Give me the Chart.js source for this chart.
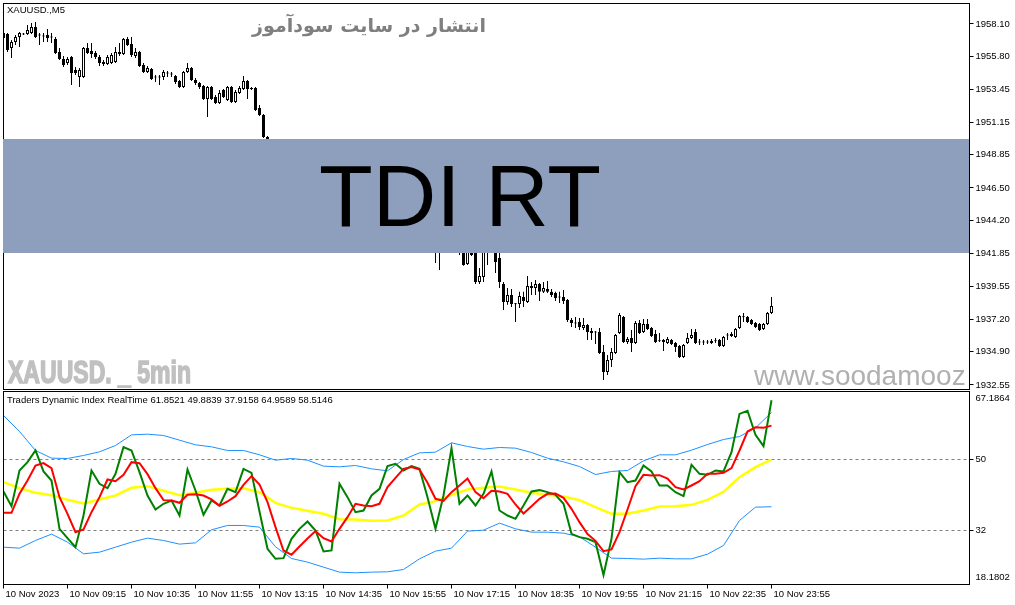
<!DOCTYPE html>
<html><head><meta charset="utf-8">
<script src="https://cdn.jsdelivr.net/npm/chart.js@4.4.1/dist/chart.umd.min.js"></script>
<style>
html,body{margin:0;padding:0;background:#fff;width:1015px;height:605px;overflow:hidden;position:relative;}
canvas{position:absolute;left:0;}
#main{top:0;}
#ind{top:391px;}
.t{position:absolute;white-space:nowrap;font-family:'Liberation Sans',Arial,sans-serif;color:#000;}
</style></head><body>
<canvas id="main" width="1015" height="390"></canvas>
<canvas id="ind" width="1015" height="214"></canvas>
<div class="t" style="left:7px;top:4px;font-size:9.5px;line-height:11px;">XAUUSD.,M5</div>
<div class="t" dir="rtl" style="left:246px;top:12px;width:246px;text-align:center;font-family:'DejaVu Sans',sans-serif;font-weight:bold;font-size:19px;line-height:26px;color:#7f7f7f;">انتشار در سایت سودآموز</div>
<div style="position:absolute;left:3px;top:139px;width:966px;height:114px;background:#8d9fbc;overflow:hidden;">
  <div class="t" style="left:0;top:0;width:914px;text-align:center;font-size:88px;line-height:114px;">TDI RT</div>
</div>
<div class="t" style="left:8px;top:356px;font-size:32px;line-height:32px;font-weight:bold;color:#c0c0c0;-webkit-text-stroke:1.6px #c0c0c0;transform:scaleX(0.72);transform-origin:0 0;">XAUUSD. _ 5min</div>
<div style="position:absolute;left:3px;top:355px;width:965px;height:34px;overflow:hidden;">
  <div class="t" style="left:751px;top:7px;font-size:28px;line-height:28px;color:#b0b0b0;">www.soodamooz.com</div>
</div>
<div class="t" id="tdiLabel" style="left:7px;top:394px;font-size:9.5px;line-height:11px;"></div>
<script>
// ---------- price data (M5 candles, 10 Nov 2023 07:55 .. 23:55) ----------
const open = [
1957.11,1957.39,1956.40,1956.83,1957.18,1957.36,1957.39,1957.46,1957.89,1957.32,
1957.25,1957.32,1957.18,1957.04,1956.12,1955.62,1955.34,1955.77,1954.85,1954.35,
1954.35,1956.40,1956.19,1956.05,1955.77,1955.41,1955.27,1955.34,1955.41,1956.12,
1955.98,1957.04,1956.69,1955.84,1956.12,1955.20,1954.70,1954.92,1954.35,1954.32,
1954.35,1954.63,1954.56,1954.42,1954.07,1953.64,1954.70,1954.99,1954.14,1953.93,
1953.71,1952.79,1953.64,1952.93,1952.51,1953.43,1952.72,1953.64,1952.58,1953.22,
1953.50,1954.07,1953.57,1953.57,1952.16,1951.66,1950.10,1949.75,1949.35,1949.05,
1949.30,1948.70,1948.25,1948.50,1948.30,1947.85,1948.10,1948.35,1948.00,1947.55,
1947.20,1947.50,1947.25,1946.80,1947.00,1946.85,1946.30,1945.95,1946.25,1946.05,
1945.60,1945.80,1945.40,1944.95,1945.20,1944.80,1944.35,1944.60,1944.20,1943.80,
1944.05,1943.65,1943.25,1943.45,1943.00,1942.65,1942.85,1942.50,1942.39,1942.11,
1942.25,1942.55,1942.40,1942.65,1942.80,1942.45,1941.12,1941.90,1942.11,1939.84,
1940.20,1942.39,1942.11,1942.25,1941.54,1939.70,1938.43,1938.92,1938.29,1938.29,
1938.78,1938.43,1939.56,1939.42,1939.70,1939.14,1939.35,1939.14,1939.06,1938.78,
1938.78,1938.57,1937.15,1936.94,1937.01,1936.59,1936.80,1936.23,1936.30,1936.30,
1934.89,1933.47,1934.32,1934.82,1936.23,1937.37,1935.59,1935.88,1935.52,1936.94,
1936.30,1936.87,1936.59,1936.16,1935.67,1935.59,1935.52,1935.74,1935.52,1935.31,
1934.53,1935.52,1935.88,1936.30,1935.59,1935.56,1935.59,1935.52,1935.67,1935.74,
1935.31,1936.09,1936.16,1935.95,1936.59,1937.37,1937.37,1937.15,1936.94,1936.87,
1936.52,1936.87,1937.65];
const high = [
1957.61,1957.46,1956.97,1957.32,1957.54,1957.46,1958.03,1958.17,1958.24,1957.46,
1957.46,1957.75,1957.46,1957.18,1956.40,1955.84,1955.77,1955.84,1955.06,1954.99,
1956.47,1956.76,1956.76,1956.19,1955.91,1955.55,1955.91,1956.05,1956.47,1956.76,
1957.11,1957.18,1957.18,1956.40,1956.19,1955.34,1955.13,1954.99,1954.49,1954.49,
1954.85,1954.78,1954.70,1954.49,1954.14,1954.78,1955.34,1955.06,1954.28,1954.00,
1953.78,1953.71,1953.71,1953.08,1953.43,1953.50,1953.71,1953.71,1953.43,1953.71,
1954.42,1954.14,1953.64,1953.64,1952.37,1951.73,1950.17,1949.90,1949.50,1949.40,
1949.45,1948.85,1948.60,1948.70,1948.40,1948.20,1948.45,1948.50,1948.10,1947.70,
1947.60,1947.65,1947.35,1947.10,1947.20,1946.95,1946.45,1946.35,1946.40,1946.15,
1945.90,1945.95,1945.50,1945.30,1945.35,1944.90,1944.70,1944.75,1944.30,1944.15,
1944.20,1943.80,1943.55,1943.60,1943.15,1942.95,1943.00,1942.70,1942.53,1942.60,
1942.70,1942.85,1942.75,1942.95,1943.05,1942.60,1942.39,1942.18,1942.25,1940.83,
1942.39,1942.55,1942.45,1942.39,1942.11,1939.84,1939.42,1939.35,1938.36,1939.14,
1939.14,1940.27,1939.84,1939.98,1939.77,1939.84,1939.91,1939.35,1939.14,1939.14,
1939.28,1938.64,1937.29,1937.37,1937.29,1937.29,1936.87,1936.59,1936.37,1936.59,
1935.38,1934.68,1935.17,1936.16,1937.65,1937.44,1935.95,1936.45,1937.08,1937.15,
1937.22,1937.22,1936.66,1936.45,1936.23,1935.81,1935.95,1935.81,1935.59,1935.38,
1935.45,1936.23,1936.52,1936.52,1935.81,1935.74,1935.74,1935.81,1935.88,1935.81,
1936.02,1936.23,1936.30,1936.59,1937.51,1937.65,1937.44,1937.22,1937.01,1936.94,
1936.94,1937.72,1938.78];
const low = [
1956.97,1956.12,1955.69,1956.62,1956.47,1957.32,1957.32,1957.39,1957.11,1956.62,
1956.83,1956.83,1956.76,1955.98,1955.55,1955.06,1955.20,1953.78,1954.49,1953.64,
1954.28,1955.98,1955.69,1955.62,1955.13,1955.13,1955.20,1955.27,1955.34,1955.84,
1955.91,1956.54,1955.77,1955.69,1955.06,1954.63,1954.63,1954.14,1954.00,1953.78,
1954.14,1954.35,1954.35,1953.85,1953.57,1953.57,1954.63,1954.07,1953.78,1953.50,
1952.72,1951.52,1952.72,1952.44,1952.44,1952.86,1952.65,1952.51,1952.51,1953.15,
1953.43,1952.79,1953.43,1951.94,1951.59,1950.03,1949.54,1949.20,1948.90,1948.95,
1948.60,1948.10,1948.15,1948.20,1947.70,1947.75,1948.00,1947.90,1947.40,1947.10,
1947.10,1947.15,1946.70,1946.65,1946.75,1946.20,1945.80,1945.85,1945.95,1945.50,
1945.45,1945.30,1944.85,1944.80,1944.70,1944.25,1944.20,1944.10,1943.70,1943.65,
1943.55,1943.15,1943.05,1942.90,1942.55,1942.45,1942.40,1942.20,1941.19,1940.69,
1942.05,1942.30,1942.20,1942.45,1941.75,1940.98,1941.05,1941.68,1939.70,1939.70,
1939.84,1941.05,1942.06,1940.48,1939.42,1937.86,1938.22,1938.07,1937.01,1938.00,
1938.07,1938.36,1938.92,1938.92,1938.50,1939.06,1939.06,1938.78,1938.50,1938.36,
1938.29,1937.01,1936.66,1936.59,1936.45,1936.45,1935.74,1935.74,1935.45,1934.75,
1932.91,1933.26,1933.83,1934.75,1936.16,1935.52,1935.45,1934.89,1935.45,1936.16,
1936.23,1936.45,1935.95,1935.52,1935.59,1934.96,1935.45,1935.38,1934.89,1934.46,
1934.46,1935.45,1935.81,1935.45,1935.38,1935.38,1935.45,1935.45,1935.52,1935.24,
1935.24,1935.74,1935.95,1935.88,1936.52,1937.01,1936.94,1936.80,1936.59,1936.37,
1936.45,1936.80,1937.58];
const close = [
1957.46,1956.26,1956.83,1957.18,1957.46,1957.39,1957.68,1957.89,1957.18,1957.29,
1957.22,1957.11,1957.15,1956.05,1955.62,1955.20,1955.62,1954.63,1954.63,1954.85,
1956.40,1956.05,1955.98,1955.77,1955.34,1955.27,1955.77,1955.91,1956.12,1955.98,
1957.04,1956.62,1955.91,1956.12,1955.13,1954.70,1954.99,1954.21,1954.32,1954.35,
1954.70,1954.60,1954.53,1954.00,1953.64,1954.70,1954.99,1954.14,1953.93,1953.64,
1952.79,1953.64,1952.79,1952.51,1953.22,1952.93,1953.64,1952.58,1953.29,1953.57,
1954.07,1953.50,1953.50,1952.01,1951.66,1950.10,1949.75,1949.35,1949.05,1949.30,
1948.70,1948.25,1948.50,1948.30,1947.85,1948.10,1948.35,1948.00,1947.55,1947.20,
1947.50,1947.25,1946.80,1947.00,1946.85,1946.30,1945.95,1946.25,1946.05,1945.60,
1945.80,1945.40,1944.95,1945.20,1944.80,1944.35,1944.60,1944.20,1943.80,1944.05,
1943.65,1943.25,1943.45,1943.00,1942.65,1942.85,1942.50,1942.35,1942.11,1942.25,
1942.55,1942.40,1942.65,1942.80,1942.45,1941.05,1942.25,1941.75,1939.84,1940.27,
1942.25,1942.11,1942.25,1941.26,1939.84,1938.43,1938.92,1938.29,1938.26,1938.85,
1938.50,1939.56,1939.42,1939.70,1939.14,1939.42,1939.14,1938.92,1938.71,1938.75,
1938.50,1937.15,1936.94,1936.91,1936.66,1936.80,1936.30,1936.37,1936.27,1934.82,
1933.47,1934.32,1934.89,1936.09,1937.51,1935.59,1935.81,1935.52,1936.94,1936.23,
1936.87,1936.52,1936.02,1935.59,1935.64,1935.74,1935.81,1935.45,1935.24,1934.53,
1935.38,1935.88,1936.09,1935.52,1935.56,1935.59,1935.56,1935.67,1935.64,1935.31,
1935.95,1936.06,1936.02,1936.52,1937.44,1937.34,1937.01,1936.87,1936.66,1936.45,
1936.87,1937.65,1938.14];
const priceTicks = [1958.10,1955.80,1953.45,1951.15,1948.85,1946.50,1944.20,1941.85,1939.55,1937.20,1934.90,1932.55];

// ---------- Traders Dynamic Index (sampled every 2 bars / every 4 bars) ----------
const lineStep = 2;
const bandStep = 4;
const rsiPrice = [
41.80,38.07,47.13,49.25,52.21,46.88,44.59,32.32,29.95,27.66,
35.70,47.13,43.74,42.64,46.28,53.05,52.21,46.71,40.78,37.23,
38.67,39.51,35.70,47.38,42.05,35.87,39.51,38.24,42.47,41.63,
47.55,46.54,36.72,27.24,24.70,24.87,29.78,32.32,34.18,31.90,
26.56,26.82,43.74,40.36,36.55,36.97,40.78,42.47,48.23,48.82,
47.13,48.23,47.55,40.36,32.32,40.78,52.80,38.67,40.78,38.24,
41.21,46.88,36.97,35.70,34.86,38.24,41.80,42.14,41.63,40.95,
38.67,31.05,30.20,29.78,28.93,20.60,29.78,46.71,44.17,44.59,
48.40,46.88,43.32,43.32,41.63,40.61,48.57,46.28,46.03,47.13,
46.88,51.80,61.50,62.30,56.20,53.30,64.9589];
const signal = [
36.38,36.38,41.21,44.59,48.40,48.99,47.72,40.36,36.13,31.47,
32.15,36.55,40.36,44.84,44.42,46.03,49.25,48.99,46.20,42.64,
39.60,39.51,38.92,40.95,41.12,40.78,39.77,38.16,39.26,40.61,
43.49,45.69,43.57,39.09,32.74,26.82,25.72,27.83,29.86,31.73,
29.95,29.10,32.32,35.28,38.67,38.24,38.07,38.67,42.90,45.27,
47.55,47.98,47.38,44.00,39.94,39.43,41.63,43.32,45.10,41.63,
40.10,41.97,41.80,41.21,38.50,36.21,38.07,39.94,41.21,41.29,
40.19,37.40,34.01,30.97,29.27,26.65,27.07,31.47,37.23,43.15,
46.03,45.86,45.94,45.10,42.90,42.31,43.32,44.42,46.28,46.28,
46.54,47.72,52.21,57.03,58.13,57.96,58.5146];
const baseLine = [
44.17,42.64,41.46,40.87,39.68,38.75,39.77,40.78,42.73,43.15,
41.97,40.87,41.46,42.22,42.47,42.64,41.63,38.92,37.65,36.89,
36.13,34.77,34.69,34.35,34.43,35.70,38.50,39.34,40.95,42.31,
42.73,43.07,42.31,41.46,40.95,40.53,39.60,37.82,36.13,36.13,
36.97,37.99,38.07,38.41,39.68,41.71,45.44,47.98,49.8839];
const upperBand = [
61.09,57.03,52.21,50.26,50.18,50.94,51.87,53.48,56.18,56.35,
56.02,54.83,53.65,53.14,52.21,52.21,51.11,49.75,50.18,49.75,
48.23,48.06,48.40,47.55,47.05,49.92,51.61,51.78,54.15,53.22,
52.55,52.97,52.80,51.70,50.26,49.33,48.14,46.11,46.88,47.13,
49.58,51.11,51.11,52.29,53.73,55.00,55.76,57.96,61.8521];
const lowerBand = [
27.66,27.41,29.36,30.97,28.93,25.97,26.39,27.66,28.93,29.95,
29.36,28.43,28.76,32.07,33.17,33.17,32.74,27.75,24.79,23.86,
22.59,21.32,21.15,21.32,21.40,21.99,24.70,26.65,27.41,31.73,
31.98,33.76,32.32,31.47,31.47,31.22,30.29,27.66,24.87,24.79,
24.62,24.87,24.70,24.70,25.88,28.09,34.43,37.82,37.9158];
const levels = [50, 32];
const indMin = 18.1802, indMax = 67.1864;

// ---------- time axis ----------
const timeTickBars = [0,16,32,48,64,80,96,112,128,144,160,176,192];
const timeLabels = ['10 Nov 2023','10 Nov 09:15','10 Nov 10:35','10 Nov 11:55','10 Nov 13:15','10 Nov 14:35','10 Nov 15:55','10 Nov 17:15','10 Nov 18:35','10 Nov 19:55','10 Nov 21:15','10 Nov 22:35','10 Nov 23:55'];

// ---------- build ----------
const last = a => a[a.length - 1];
document.getElementById('tdiLabel').textContent =
  'Traders Dynamic Index RealTime ' + [last(upperBand), last(baseLine), last(lowerBand), last(rsiPrice), last(signal)].map(v => v.toFixed(4)).join(' ');

const FONT = {family: "'Liberation Sans', Arial, sans-serif", size: 9.5};
Chart.defaults.color = '#000';
const X_MIN = 0, X_MAX = 241.5;

const framePlugin = {
  id: 'frame',
  afterDraw(chart) {
    const {ctx, chartArea: a} = chart;
    ctx.save();
    ctx.strokeStyle = '#000'; ctx.lineWidth = 1;
    ctx.strokeRect(a.left, a.top, a.right - a.left, a.bottom - a.top);
    ctx.restore();
  }
};

const bodyData = open.map((o, i) => ({x: i, y: [o, close[i]]}));
const wickData = high.map((h, i) => ({x: i, y: [low[i], h]}));

new Chart(document.getElementById('main'), {
  type: 'bar',
  data: {datasets: [
    {data: bodyData, order: 0, grouped: false, categoryPercentage: 1, barPercentage: 0.75, maxBarThickness: 3,
     inflateAmount: 0, borderSkipped: false, minBarLength: 1, borderWidth: 1, borderColor: '#000',
     backgroundColor: open.map((o, i) => close[i] >= o ? '#ffffff' : '#000000')},
    {data: wickData, order: 1, grouped: false, categoryPercentage: 1, barPercentage: 0.25, maxBarThickness: 1,
     inflateAmount: 0, borderWidth: 0, backgroundColor: '#000'}
  ]},
  options: {
    responsive: false, animation: false, events: [],
    layout: {padding: {left: 3.5, top: 3.5, right: 0, bottom: 0.5}},
    plugins: {legend: {display: false}, tooltip: {enabled: false}},
    scales: {
      x: {type: 'linear', display: false, offset: false, min: X_MIN, max: X_MAX, grid: {offset: false}},
      y: {position: 'right', min: 1932.23, max: 1959.55, stacked: false,
          afterBuildTicks: s => { s.ticks = priceTicks.map(v => ({value: v})); },
          afterFit: s => { s.width = 45.5; s.paddingTop = 0; s.paddingBottom = 0; },
          ticks: {autoSkip: false, padding: 2, font: FONT, color: '#000',
                  callback: (v, i) => priceTicks[i].toFixed(2)},
          grid: {drawOnChartArea: false, tickLength: 4, color: '#000'},
          border: {display: true, color: '#000'}}
    }
  },
  plugins: [framePlugin]
});

const levelPlugin = {
  id: 'levels',
  beforeDatasetsDraw(chart) {
    const {ctx, chartArea: a, scales: {y}} = chart;
    ctx.save();
    ctx.strokeStyle = '#808080'; ctx.lineWidth = 1; ctx.setLineDash([3, 3]);
    levels.forEach(l => {
      const py = Math.round(y.getPixelForValue(l)) + 0.5;
      ctx.beginPath(); ctx.moveTo(a.left, py); ctx.lineTo(a.right, py); ctx.stroke();
    });
    ctx.restore();
  },
  afterDraw(chart) {
    const {ctx, chartArea: a} = chart;
    ctx.save();
    ctx.fillStyle = '#000';
    ctx.font = FONT.size + 'px ' + FONT.family;
    ctx.textBaseline = 'middle'; ctx.textAlign = 'left';
    ctx.fillText(indMax.toFixed(4), a.right + 6, a.top + 7);
    ctx.fillText(indMin.toFixed(4), a.right + 6, a.bottom - 7.5);
    ctx.restore();
  }
};

const pts = (arr, step) => arr.map((v, k) => ({x: k * step, y: v}));
const lineDs = (arr, step, color, width) => ({
  type: 'line', data: pts(arr, step), borderColor: color, borderWidth: width,
  pointRadius: 0, tension: 0, fill: false
});

new Chart(document.getElementById('ind'), {
  type: 'line',
  data: {datasets: [
    lineDs(signal, lineStep, '#ff0000', 2),
    lineDs(rsiPrice, lineStep, '#008000', 2),
    lineDs(baseLine, bandStep, '#ffff00', 2.5),
    lineDs(upperBand, bandStep, '#1e90ff', 1),
    lineDs(lowerBand, bandStep, '#1e90ff', 1)
  ]},
  options: {
    responsive: false, animation: false, events: [],
    layout: {padding: {left: 3.5, top: 0.5, right: 0, bottom: 0}},
    plugins: {legend: {display: false}, tooltip: {enabled: false}},
    scales: {
      x: {type: 'linear', offset: false, min: X_MIN, max: X_MAX,
          afterBuildTicks: s => { s.ticks = timeTickBars.map(v => ({value: v})); },
          afterFit: s => { s.height = 20.5; s.paddingLeft = 0; s.paddingRight = 0; },
          ticks: {autoSkip: false, maxRotation: 0, align: 'start', labelOffset: 2, padding: 0,
                  font: FONT, color: '#000', callback: (v, i) => timeLabels[i]},
          grid: {drawOnChartArea: false, tickLength: 4, color: '#000'},
          border: {display: true, color: '#000'}},
      y: {position: 'right', min: indMin, max: indMax,
          afterBuildTicks: s => { s.ticks = levels.map(v => ({value: v})); },
          afterFit: s => { s.width = 45.5; s.paddingTop = 0; s.paddingBottom = 0; },
          ticks: {autoSkip: false, padding: 2, font: FONT, color: '#000',
                  callback: (v, i) => String(levels[i])},
          grid: {drawOnChartArea: false, tickLength: 4, color: '#000'},
          border: {display: true, color: '#000'}}
    }
  },
  plugins: [levelPlugin, framePlugin]
});
</script>
</body></html>
